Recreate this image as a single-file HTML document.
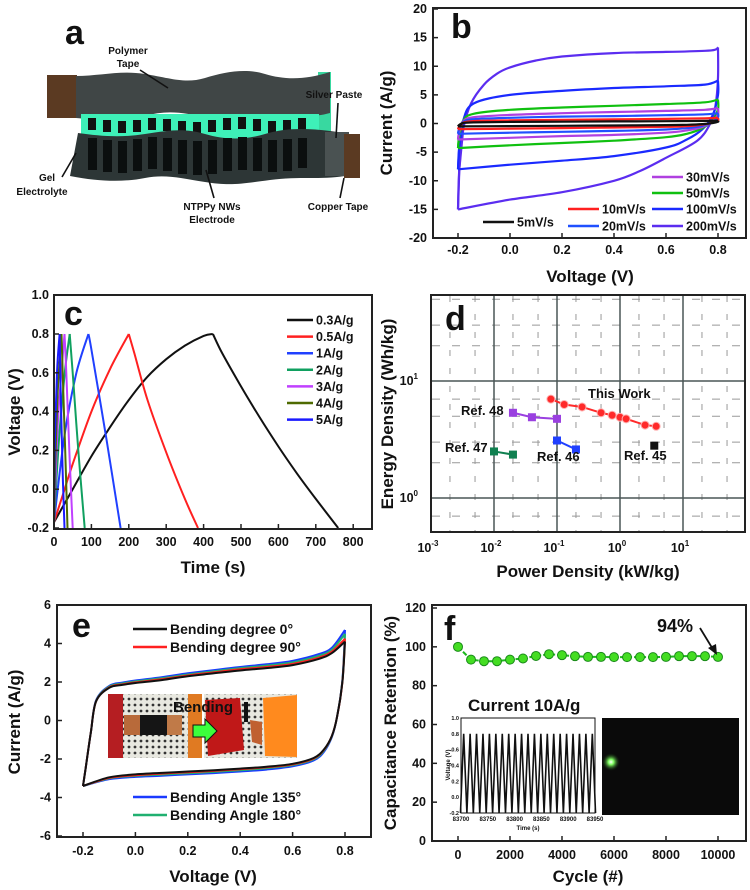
<!DOCTYPE html>
<html><head><meta charset="utf-8"><style>
html,body{margin:0;padding:0;background:#fff;}
svg{display:block;font-family:"Liberation Sans",Arial,sans-serif;font-weight:bold;}
</style></head><body>
<svg id="fig" width="750" height="890" viewBox="0 0 750 890" xmlns="http://www.w3.org/2000/svg">
<defs>
<pattern id="dots" width="6" height="6" patternUnits="userSpaceOnUse"><rect width="6" height="6" fill="#e8e8e0"/><circle cx="3" cy="3" r="1.4" fill="#333"/></pattern>
<radialGradient id="glow"><stop offset="0" stop-color="#fff"/><stop offset="0.3" stop-color="#7fff60"/><stop offset="1" stop-color="#0a200a" stop-opacity="0"/></radialGradient>
</defs>
<g>
<text x="65" y="44" font-size="34" fill="#111">a</text>
<rect x="47" y="75" width="30" height="43" fill="#5b3a22"/>
<rect x="318" y="72" width="13" height="62" fill="#38d8a0"/>
<path d="M76,76 C100,76 120,70 145,74 S185,84 205,78 S245,68 265,74 S305,80 330,72 L330,113 C305,120 285,112 265,116 S225,124 205,118 S165,110 145,116 S100,120 76,118 Z" fill="#404646"/>
<rect x="81" y="114" width="238" height="26" fill="#3ef0b8"/>
<g fill="#111">
<rect x="88" y="118" width="8" height="12"/><rect x="103" y="120" width="8" height="12"/><rect x="118" y="121" width="8" height="12"/><rect x="133" y="120" width="8" height="12"/><rect x="148" y="118" width="8" height="12"/><rect x="163" y="119" width="8" height="12"/><rect x="178" y="121" width="8" height="12"/><rect x="193" y="122" width="8" height="12"/><rect x="208" y="120" width="8" height="12"/><rect x="223" y="118" width="8" height="12"/><rect x="238" y="117" width="8" height="12"/><rect x="253" y="119" width="8" height="12"/><rect x="268" y="121" width="8" height="12"/><rect x="283" y="120" width="8" height="12"/><rect x="298" y="118" width="8" height="12"/>
</g>
<path d="M78,133 C100,136 120,138 145,134 S185,128 205,134 S245,140 265,134 S305,128 330,131 L345,133 L345,176 C320,180 300,176 270,180 S230,186 205,182 S165,174 145,178 S100,182 70,176 Z" fill="#2d3636"/>
<g fill="#0b0f0f">
<rect x="88" y="138" width="9" height="32"/><rect x="103" y="140" width="9" height="32"/><rect x="118" y="141" width="9" height="32"/><rect x="133" y="139" width="9" height="32"/><rect x="148" y="137" width="9" height="32"/><rect x="163" y="138" width="9" height="33"/><rect x="178" y="140" width="9" height="34"/><rect x="193" y="141" width="9" height="34"/><rect x="208" y="140" width="9" height="34"/><rect x="223" y="138" width="9" height="33"/><rect x="238" y="137" width="9" height="33"/><rect x="253" y="138" width="9" height="33"/><rect x="268" y="140" width="9" height="32"/><rect x="283" y="139" width="9" height="32"/><rect x="298" y="138" width="9" height="30"/>
</g>
<rect x="325" y="132" width="24" height="44" fill="#4a5252"/>
<rect x="344" y="134" width="16" height="44" fill="#5b3a22"/>
<g font-size="10" fill="#111" text-anchor="middle">
<text x="128" y="54">Polymer</text><text x="128" y="67">Tape</text>
<text x="334" y="98">Silver Paste</text>
<text x="47" y="181">Gel</text><text x="42" y="195">Electrolyte</text>
<text x="212" y="210">NTPPy NWs</text><text x="212" y="223">Electrode</text>
<text x="338" y="210">Copper Tape</text>
</g>
<g stroke="#111" stroke-width="1.6" fill="none">
<line x1="140" y1="70" x2="168" y2="88"/><line x1="338" y1="103" x2="336" y2="138"/><line x1="62" y1="177" x2="76" y2="153"/><line x1="214" y1="198" x2="206" y2="170"/><line x1="340" y1="198" x2="344" y2="178"/>
</g>
</g>
<g id="photo">
<rect x="108" y="694" width="189" height="64" fill="url(#dots)"/>
<rect x="108" y="694" width="15" height="64" fill="#b51e22"/>
<rect x="124" y="715" width="16" height="20" fill="#b86a3a"/>
<rect x="140" y="715" width="27" height="20" fill="#151515"/>
<rect x="167" y="715" width="15" height="20" fill="#c07a48"/>
<rect x="188" y="694" width="14" height="64" fill="#e07a22"/>
<rect x="202" y="694" width="2" height="64" fill="#fff"/>
<polygon points="205,700 240,698 244,750 208,756" fill="#c01818"/>
<rect x="244" y="702" width="4" height="20" fill="#111"/>
<polygon points="250,720 262,722 262,745 252,742" fill="#c06030"/>
<polygon points="263,698 297,695 297,757 265,756" fill="#ff8a1e"/>
<polygon points="193,725 205,725 205,719 217,731 205,743 205,737 193,737" fill="#3cff3c" stroke="#111" stroke-width="1"/>
<text x="173" y="712" font-size="15" fill="#111">Bending</text>
</g>
</svg>
<script>
const NS="http://www.w3.org/2000/svg";
const svg=document.getElementById('fig');
function el(t,a,p){const e=document.createElementNS(NS,t);for(const k in a)e.setAttribute(k,a[k]);(p||svg).appendChild(e);return e;}
function named(e,n,i){


return e;}
function txt(x,y,s,size,anchor,extra){const e=el('text',Object.assign({x:x,y:y,'font-size':size,'text-anchor':anchor||'start',fill:'#111'},extra||{}));e.textContent=s;return e;}
function spline(pts){let d='M'+pts[0][0].toFixed(1)+','+pts[0][1].toFixed(1);for(let i=0;i<pts.length-1;i++){const p0=pts[Math.max(i-1,0)],p1=pts[i],p2=pts[i+1],p3=pts[Math.min(i+2,pts.length-1)];const c1=[p1[0]+(p2[0]-p0[0])/6,p1[1]+(p2[1]-p0[1])/6],c2=[p2[0]-(p3[0]-p1[0])/6,p2[1]-(p3[1]-p1[1])/6];d+=' C'+c1[0].toFixed(1)+','+c1[1].toFixed(1)+' '+c2[0].toFixed(1)+','+c2[1].toFixed(1)+' '+p2[0].toFixed(1)+','+p2[1].toFixed(1);}return d;}
function frame(x0,y0,x1,y1,n){const r=el('rect',{x:x0,y:y0,width:x1-x0,height:y1-y0,fill:'none',stroke:'#222','stroke-width':2});named(r,n);}
function vtitle(x,y,s,n){const t=txt(x,y,s,17,'middle',{transform:'rotate(-90 '+x+' '+y+')'});named(t,n);}

// ================= Panel b =================
const bTicksX=[-0.2,0,0.2,0.4,0.6,0.8];
const bTicksY=[-20,-15,-10,-5,0,5,10,15,20];
const bUpV=[-0.2,-0.195,-0.18,-0.15,-0.1,-0.05,0,0.1,0.2,0.4,0.6,0.75,0.79,0.8];
const b200Up=[-15,-8,-1,3.5,6.8,8.7,9.8,11,11.7,12.3,12.5,12.7,12.9,13.3];
const bDownV=[0.8,0.8,0.79,0.77,0.72,0.6,0.5,0.4,0.2,0,-0.2];
const b200Down=[13.3,8,3,0,-3,-6,-8.3,-10,-12,-13.3,-15];
const bUpV2=[-0.2,-0.195,-0.18,-0.14,0,0.2,0.4,0.6,0.75,0.8];
const bDownV2=[0.8,0.8,0.78,0.74,0.68,0.6,0.4,0.2,0,-0.2];
const b100Up=[-8,-4,0.5,3.5,5,5.7,6.2,6.5,6.8,7.5];
const b100Down=[7.5,5,1.5,-1,-2.8,-4.2,-5.7,-6.5,-7.2,-8];
const b50Up=[-4.3,-2,0.5,1.7,2.4,2.8,3.1,3.4,3.7,4.2];
const b50Down=[4.2,2.5,0.6,-0.8,-1.8,-2.4,-3,-3.4,-3.8,-4.3];
const b30Up=[-2.8,-1.3,0.4,1.1,1.5,1.8,2,2.2,2.4,2.7];
const b30Down=[2.7,1.6,0.4,-0.6,-1.2,-1.6,-2,-2.2,-2.5,-2.8];
const b20Up=[-1.8,-0.8,0.3,0.75,1.0,1.2,1.3,1.45,1.6,1.8];
const b20Down=[1.8,1.1,0.3,-0.4,-0.8,-1.05,-1.3,-1.45,-1.6,-1.8];
const b10Up=[-1,-0.5,0.15,0.42,0.55,0.65,0.72,0.8,0.9,1.0];
const b10Down=[1,0.6,0.15,-0.2,-0.45,-0.58,-0.7,-0.8,-0.9,-1];
const b5Up=[-0.5,-0.25,0.08,0.2,0.28,0.32,0.36,0.4,0.45,0.5];
const b5Down=[0.5,0.3,0.08,-0.1,-0.22,-0.28,-0.35,-0.4,-0.45,-0.5];
const bSeries=[
 {name:'200mV/s',c:'#5b2df0',uv:bUpV,ui:b200Up,dv:bDownV,di:b200Down},
 {name:'100mV/s',c:'#1a2aff',uv:bUpV2,ui:b100Up,dv:bDownV2,di:b100Down},
 {name:'50mV/s',c:'#10c010',uv:bUpV2,ui:b50Up,dv:bDownV2,di:b50Down},
 {name:'30mV/s',c:'#b040e0',uv:bUpV2,ui:b30Up,dv:bDownV2,di:b30Down},
 {name:'20mV/s',c:'#2050ff',uv:bUpV2,ui:b20Up,dv:bDownV2,di:b20Down},
 {name:'10mV/s',c:'#ff2020',uv:bUpV2,ui:b10Up,dv:bDownV2,di:b10Down},
 {name:'5mV/s',c:'#111',uv:bUpV2,ui:b5Up,dv:bDownV2,di:b5Down}];
(function(){
const X=v=>458+(v+0.2)*260, Y=i=>9+(20-i)*229/40;
const g=el('g',{});named(g,'panel-b-cv-rates');
bSeries.forEach(s=>{
 const up=s.uv.map((v,k)=>[X(v),Y(s.ui[k])]), dn=s.dv.map((v,k)=>[X(v),Y(s.di[k])]);
 const p1=el('path',{d:spline(up),fill:'none',stroke:s.c,'stroke-width':2.2,'stroke-linejoin':'round'},g);named(p1,'cv-'+s.name.replace('/','-')+'-anodic');
 const p0=el('polyline',{points:up.slice(0,3).map(p=>p[0].toFixed(1)+','+p[1].toFixed(1)).join(' '),fill:'none',stroke:s.c,'stroke-width':2.2},g);named(p0,'cv-'+s.name.replace('/','-')+'-left-edge');
 const p2=el('path',{d:spline(dn),fill:'none',stroke:s.c,'stroke-width':2.2,'stroke-linejoin':'round'},g);named(p2,'cv-'+s.name.replace('/','-')+'-cathodic');
});
frame(433,8,746,238,'panel-b-frame');
bTicksX.forEach(v=>{const t=txt(X(v),254,v.toFixed(1),12.5,'middle');named(t,'b-x-tick-label');el('line',{x1:X(v),x2:X(v),y1:238,y2:233,stroke:'#222','stroke-width':1.5});});
bTicksY.forEach(v=>{const t=txt(427,Y(v)+4,String(v),12.5,'end');named(t,'b-y-tick-label');el('line',{x1:433,x2:438,y1:Y(v),y2:Y(v),stroke:'#222','stroke-width':1.5});});
const l=txt(451,38,'b',34,'start');named(l,'panel-b-label');
const xt=txt(590,282,'Voltage (V)',17,'middle');named(xt,'b-x-axis-title');
vtitle(392,123,'Current (A/g)','b-y-axis-title');
const leg=[['30mV/s','#b040e0',652,177],['50mV/s','#10c010',652,193],['100mV/s','#1a2aff',652,209],['200mV/s','#5b2df0',652,226],['10mV/s','#ff2020',568,209],['20mV/s','#2050ff',568,226],['5mV/s','#111',483,222]];
leg.forEach(a=>{const li=el('line',{x1:a[2],x2:a[2]+31,y1:a[3],y2:a[3],stroke:a[1],'stroke-width':2.5});named(li,'b-legend-line');const t=txt(a[2]+34,a[3]+4.5,a[0],12.5,'start');named(t,'b-legend-entry');});
})();

// ================= Panel c =================
const cTicksX=[0,100,200,300,400,500,600,700,800];
const cTicksY=[-0.2,0,0.2,0.4,0.6,0.8,1.0];
const c03T=[0,50,100,150,200,250,300,350,400,425,450,500,550,600,650,700,760];
const c03V=[-0.17,0,0.17,0.32,0.46,0.58,0.67,0.74,0.79,0.8,0.7,0.53,0.37,0.22,0.08,-0.05,-0.2];
const c05T=[0,25,50,100,150,200,215,250,300,350,385];
const c05V=[-0.17,-0.02,0.13,0.4,0.62,0.8,0.7,0.46,0.19,-0.05,-0.2];
const c1T=[0,10,30,60,92,100,140,178];
const c1V=[-0.17,0.0,0.3,0.6,0.8,0.72,0.26,-0.2];
const c2T=[0,5,15,30,42,50,65,82];
const c2V=[-0.17,0,0.3,0.62,0.8,0.6,0.2,-0.2];
const c3T=[0,4,12,28,33,42,50];
const c3V=[-0.17,0.05,0.4,0.8,0.6,0.15,-0.2];
const c4T=[0,3,10,20,24,30,36];
const c4V=[-0.17,0.1,0.5,0.8,0.55,0.2,-0.2];
const c5T=[0,2,8,15,18,23,28];
const c5V=[-0.17,0.2,0.6,0.8,0.5,0.1,-0.2];
const cSeries=[['0.3A/g','#111',c03T,c03V],['0.5A/g','#ff2020',c05T,c05V],['1A/g','#2040ff',c1T,c1V],['2A/g','#10a060',c2T,c2V],['3A/g','#c040ff',c3T,c3V],['4A/g','#4e6a00',c4T,c4V],['5A/g','#1a1aff',c5T,c5V]];
(function(){
const X=t=>54+t*0.374, Y=v=>334+(0.8-v)*194;
const g=el('g',{});named(g,'panel-c-gcd');
cSeries.forEach(s=>{
 const pts=s[2].map((t,k)=>[X(t),Y(s[3][k])]);
 let mi=0;s[3].forEach((v,k)=>{if(v>s[3][mi])mi=k;});
 const p1=el('path',{d:spline(pts.slice(0,mi+1)),fill:'none',stroke:s[1],'stroke-width':2},g);named(p1,'gcd-'+s[0].replace('/','-')+'-charge');
 const p2=el('path',{d:spline(pts.slice(mi)),fill:'none',stroke:s[1],'stroke-width':2},g);named(p2,'gcd-'+s[0].replace('/','-')+'-discharge');
});
frame(54,295,372,529,'panel-c-frame');
cTicksX.forEach(v=>{const t=txt(X(v),546,String(v),12.5,'middle');named(t,'c-x-tick-label');el('line',{x1:X(v),x2:X(v),y1:529,y2:524,stroke:'#222','stroke-width':1.5});});
cTicksY.forEach(v=>{const t=txt(49,Y(v)+4,v.toFixed(1),12.5,'end');named(t,'c-y-tick-label');el('line',{x1:54,x2:59,y1:Y(v),y2:Y(v),stroke:'#222','stroke-width':1.5});});
const l=txt(64,325,'c',34,'start');named(l,'panel-c-label');
const xt=txt(213,573,'Time (s)',17,'middle');named(xt,'c-x-axis-title');
vtitle(20,412,'Voltage (V)','c-y-axis-title');
cSeries.forEach((s,k)=>{const y=320+k*16.6;const li=el('line',{x1:287,x2:313,y1:y,y2:y,stroke:s[1],'stroke-width':2.5});named(li,'c-legend-line');const t=txt(316,y+4.5,s[0],12.5,'start');named(t,'c-legend-entry');});
})();

// ================= Panel d =================
const dDecX=[-3,-2,-1,0,1];
const dDecY=[0,1];
const dWorkP=[0.08,0.13,0.25,0.5,0.75,1.0,1.25,2.5,3.75];
const dWorkE=[7.0,6.3,6.0,5.35,5.1,4.9,4.75,4.2,4.1];
const d48P=[0.02,0.04,0.1];const d48E=[5.35,4.9,4.75];
const d47P=[0.01,0.02];const d47E=[2.5,2.35];
const d46P=[0.1,0.2];const d46E=[3.1,2.6];
const d45P=[3.5];const d45E=[2.8];
(function(){
const X=p=>431+(Math.log10(p)+3)*63, Y=e=>381-(Math.log10(e)-1)*117;
const g=el('g',{});named(g,'panel-d-grid');
[-3,-2,-1,0,1].forEach(d=>[2,5].forEach(m=>{const x=X(m*Math.pow(10,d));if(x<745)el('line',{x1:x,x2:x,y1:296,y2:531,stroke:'#999','stroke-dasharray':'6 12','stroke-width':1},g);}));
[-1,0,1].forEach(d=>[2,3,5,7].forEach(m=>{const y=Y(m*Math.pow(10,d));if(y>296&&y<531)el('line',{x1:432,x2:744,y1:y,y2:y,stroke:'#999','stroke-dasharray':'8 12','stroke-width':1},g);}));
dDecX.slice(1).forEach(d=>el('line',{x1:X(Math.pow(10,d)),x2:X(Math.pow(10,d)),y1:296,y2:531,stroke:'#4a5656','stroke-width':1.5},g));
dDecY.forEach(d=>el('line',{x1:432,x2:744,y1:Y(Math.pow(10,d)),y2:Y(Math.pow(10,d)),stroke:'#4a5656','stroke-width':1.5},g));
function series(P,E,c,shape,n){const sg=el('g',{});named(sg,n);
 const pts=P.map((p,k)=>X(p)+','+Y(E[k])).join(' ');
 if(P.length>1)el('polyline',{points:pts,fill:'none',stroke:c,'stroke-width':2},sg);
 P.forEach((p,k)=>{let m;if(shape==='o')m=el('circle',{cx:X(p),cy:Y(E[k]),r:4,fill:c,stroke:'#ffb0b0','stroke-width':1},sg);else m=el('rect',{x:X(p)-4,y:Y(E[k])-4,width:8,height:8,fill:c},sg);named(m,n+'-point');});}
series(dWorkP,dWorkE,'#ff2a2a','o','this-work-series');
series(d48P,d48E,'#9a40e0','s','ref48-series');
series(d47P,d47E,'#108050','s','ref47-series');
series(d46P,d46E,'#2040ff','s','ref46-series');
series(d45P,d45E,'#111','s','ref45-series');
frame(431,295,745,532,'panel-d-frame');
dDecX.forEach(d=>{const t=txt(X(Math.pow(10,d))-3,552,'10',12.5,'middle');named(t,'d-x-tick-label');const s=el('tspan',{'font-size':8,dy:-6});s.textContent=String(d);t.appendChild(s);});
dDecY.forEach(d=>{const t=txt(418,Y(Math.pow(10,d))+4,'10',12.5,'end');named(t,'d-y-tick-label');const s=el('tspan',{'font-size':8,dy:-6});s.textContent=String(d);t.appendChild(s);});
const l=txt(445,330,'d',34,'start');named(l,'panel-d-label');
const labels=[['This Work',588,398],['Ref. 48',461,415],['Ref. 47',445,452],['Ref. 46',537,461],['Ref. 45',624,460]];
labels.forEach(a=>{const t=txt(a[1],a[2],a[0],13,'start');named(t,'d-series-label');});
const xt=txt(588,577,'Power Density (kW/kg)',17,'middle');named(xt,'d-x-axis-title');
vtitle(393,414,'Energy Density (Wh/kg)','d-y-axis-title');
})();

// ================= Panel e =================
const eTicksX=[-0.2,0,0.2,0.4,0.6,0.8];
const eTicksY=[-6,-4,-2,0,2,4,6];
const eUpV=[-0.2,-0.19,-0.17,-0.15,-0.1,-0.05,0,0.1,0.2,0.3,0.4,0.5,0.6,0.7,0.75,0.8];
const eDownV=[0.8,0.79,0.77,0.75,0.72,0.68,0.6,0.5,0.4,0.3,0.2,0.1,0,-0.1,-0.2];
const e0Up=[-3.4,-2.5,-0.6,1.0,1.7,1.85,1.95,2.1,2.3,2.45,2.6,2.72,2.88,3.2,3.5,4.1];
const e0Down=[4.1,2.0,0.2,-0.8,-1.5,-1.95,-2.25,-2.4,-2.5,-2.58,-2.65,-2.72,-2.8,-2.95,-3.4];
const e90Up=[-3.4,-2.5,-0.6,1.0,1.72,1.88,1.98,2.14,2.34,2.5,2.66,2.78,2.94,3.27,3.58,4.25];
const e90Down=[4.25,2.0,0.2,-0.8,-1.52,-1.98,-2.28,-2.43,-2.53,-2.62,-2.69,-2.76,-2.84,-2.98,-3.4];
const e135Up=[-3.4,-2.5,-0.6,1.05,1.8,1.97,2.08,2.25,2.45,2.62,2.78,2.92,3.1,3.45,3.78,4.7];
const e135Down=[4.7,2.1,0.2,-0.85,-1.62,-2.08,-2.38,-2.55,-2.65,-2.73,-2.8,-2.87,-2.93,-3.05,-3.4];
const e180Up=[-3.4,-2.5,-0.6,1.02,1.76,1.92,2.03,2.19,2.39,2.56,2.72,2.85,3.02,3.36,3.68,4.5];
const e180Down=[4.5,2.05,0.2,-0.82,-1.56,-2.02,-2.32,-2.48,-2.58,-2.67,-2.74,-2.81,-2.88,-3.01,-3.4];
const eSeries=[['Bending Angle 135°','#1a3aff',e135Up,e135Down],['Bending Angle 180°','#20b070',e180Up,e180Down],['Bending degree 90°','#ff2020',e90Up,e90Down],['Bending degree 0°','#111',e0Up,e0Down]];
(function(){
const X=v=>83+(v+0.2)*262, Y=i=>605+(6-i)*19.25;
const g=el('g',{});named(g,'panel-e-cv-bending');
eSeries.forEach(s=>{
 const up=eUpV.map((v,k)=>[X(v),Y(s[2][k])]), dn=eDownV.map((v,k)=>[X(v),Y(s[3][k])]);
 const p1=el('path',{d:spline(up),fill:'none',stroke:s[1],'stroke-width':2},g);named(p1,'cv-bending-anodic');
 const p2=el('path',{d:spline(dn),fill:'none',stroke:s[1],'stroke-width':2},g);named(p2,'cv-bending-cathodic');
});
svg.appendChild(document.getElementById('photo'));
frame(57,605,371,837,'panel-e-frame');
eTicksX.forEach(v=>{const t=txt(X(v),855,v.toFixed(1),12.5,'middle');named(t,'e-x-tick-label');el('line',{x1:X(v),x2:X(v),y1:837,y2:832,stroke:'#222','stroke-width':1.5});});
eTicksY.forEach(v=>{const t=txt(51,Y(v)+4,String(v),12.5,'end');named(t,'e-y-tick-label');el('line',{x1:57,x2:62,y1:Y(v),y2:Y(v),stroke:'#222','stroke-width':1.5});});
const l=txt(72,637,'e',34,'start');named(l,'panel-e-label');
const leg=[['Bending degree 0°','#111',629],['Bending degree 90°','#ff2020',647],['Bending Angle 135°','#1a3aff',797],['Bending Angle 180°','#20b070',815]];
leg.forEach(a=>{const li=el('line',{x1:133,x2:167,y1:a[2],y2:a[2],stroke:a[1],'stroke-width':2.5});named(li,'e-legend-line');const t=txt(170,a[2]+5,a[0],14,'start');named(t,'e-legend-entry');});
const xt=txt(213,882,'Voltage (V)',17,'middle');named(xt,'e-x-axis-title');
vtitle(20,722,'Current (A/g)','e-y-axis-title');
})();

// ================= Panel f =================
const fCycles=[0,500,1000,1500,2000,2500,3000,3500,4000,4500,5000,5500,6000,6500,7000,7500,8000,8500,9000,9500,10000];
const fRetention=[100,93.4,92.6,92.6,93.4,94,95.3,96.2,95.7,95.2,94.8,94.8,94.7,94.7,94.7,94.7,94.8,95.2,95.2,95.2,94.8];
const fTicksX=[0,2000,4000,6000,8000,10000];
const fTicksY=[0,20,40,60,80,100,120];
const insetPeaks=[83705,83717,83729,83741,83753,83765,83777,83789,83801,83813,83825,83837,83849,83861,83873,83885,83897,83909,83921,83933,83945];
const insetTicks=[83700,83750,83800,83850,83900,83950];
const insetYTicks=[-0.2,0,0.2,0.4,0.6,0.8,1.0];
(function(){
const X=c=>458+c*0.026, Y=r=>841-r*233/120;
const g=el('g',{});named(g,'panel-f-cycling');
el('polyline',{points:fCycles.map((c,k)=>X(c)+','+Y(fRetention[k])).join(' '),fill:'none',stroke:'#1cb81c','stroke-width':2,'stroke-dasharray':'5 2'},g);
fCycles.forEach((c,k)=>{const m=el('circle',{cx:X(c),cy:Y(fRetention[k]),r:4.5,fill:'#44dd22',stroke:'#1a8a1a','stroke-width':1},g);named(m,'retention-point');});
frame(432,605,746,841,'panel-f-frame');
fTicksX.forEach(v=>{const t=txt(X(v),859,String(v),12.5,'middle');named(t,'f-x-tick-label');el('line',{x1:X(v),x2:X(v),y1:841,y2:836,stroke:'#222','stroke-width':1.5});});
fTicksY.forEach(v=>{const t=txt(426,Y(v)+4,String(v),12.5,'end');named(t,'f-y-tick-label');el('line',{x1:432,x2:437,y1:Y(v),y2:Y(v),stroke:'#222','stroke-width':1.5});});
const l=txt(444,640,'f',34,'start');named(l,'panel-f-label');
const p=txt(657,632,'94%',18,'start');named(p,'retention-annotation');
const ar=el('line',{x1:700,y1:628,x2:714,y2:651,stroke:'#111','stroke-width':1.8});named(ar,'annotation-arrow');
const ah=el('polygon',{points:'717,655 708,648 716,644',fill:'#111'});named(ah,'annotation-arrowhead');
const ct=txt(468,711,'Current 10A/g',17,'start');named(ct,'current-density-label');
const IX=t=>461+(t-83700)*134/250, IY=v=>718+(1.0-v)*95/1.2;
const ig=el('g',{});named(ig,'inset-gcd-plot');
el('rect',{x:461,y:718,width:134,height:95,fill:'#fff',stroke:'#111','stroke-width':1},ig);
let pts=[];insetPeaks.forEach(t=>{pts.push(IX(t-6)+','+IY(-0.2));pts.push(IX(t)+','+IY(0.8));});pts.push(IX(83951)+','+IY(-0.2));
el('polyline',{points:pts.join(' '),fill:'none',stroke:'#111','stroke-width':1.6},ig);
insetTicks.forEach(t=>{const s=txt(IX(t),821,String(t),6,'middle');named(s,'inset-x-tick-label');});
insetYTicks.forEach(v=>{const s=txt(459,IY(v)+2,v.toFixed(1),5.5,'end');named(s,'inset-y-tick-label');});
const itx=txt(528,830,'Time (s)',6,'middle');named(itx,'inset-x-axis-title');
const ity=txt(450,765,'Voltage (V)',6,'middle',{transform:'rotate(-90 450 765)'});named(ity,'inset-y-axis-title');
const bk=el('rect',{x:602,y:718,width:137,height:97,fill:'#0a0a0a'});named(bk,'led-photo');
const gl=el('circle',{cx:611,cy:762,r:9,fill:'url(#glow)'});named(gl,'led-glow');
const xt=txt(588,882,'Cycle (#)',17,'middle');named(xt,'f-x-axis-title');
vtitle(396,723,'Capacitance Retention (%)','f-y-axis-title');
})();
</script>
</body></html>
